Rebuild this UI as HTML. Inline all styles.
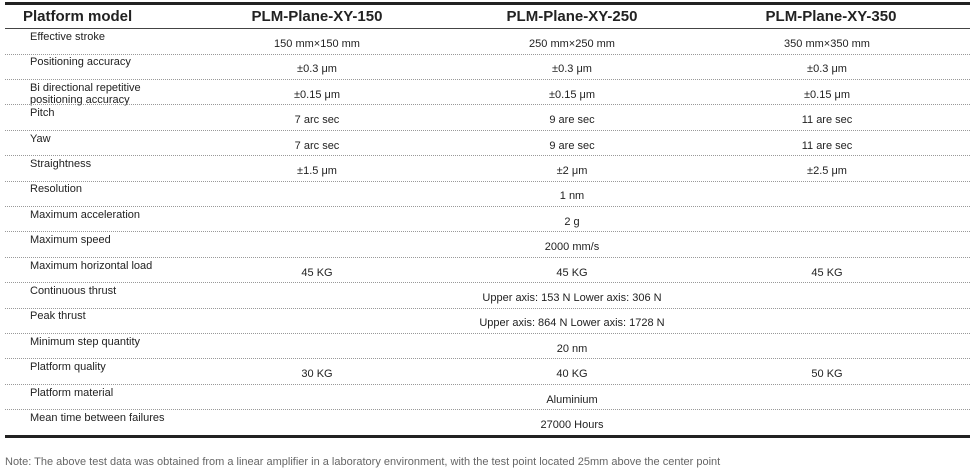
<!DOCTYPE html>
<html><head><meta charset="utf-8"><style>
body{margin:0;width:975px;height:473px;background:#fff;font-family:"Liberation Sans",sans-serif;color:#222;position:relative;overflow:hidden}
.a{position:absolute;white-space:nowrap}
.h{font-weight:bold;font-size:15px;top:8px;color:#222}
.l{font-size:11px;left:30px;line-height:12px}
.v{font-size:11px;transform:translateX(-50%)}
.sep{position:absolute;left:5px;width:965px;border-top:1px dotted #999;height:0}
</style></head><body>
<div class="a" style="left:5px;top:2px;width:965px;height:3px;background:#222"></div>
<div class="a" style="left:5px;top:28px;width:965px;height:1px;background:#444"></div>
<div class="a" style="left:5px;top:435px;width:965px;height:3px;background:#222"></div>
<div class="a h" style="left:23px">Platform model</div>
<div class="a h" style="left:317px;transform:translateX(-50%)">PLM-Plane-XY-150</div>
<div class="a h" style="left:572px;transform:translateX(-50%)">PLM-Plane-XY-250</div>
<div class="a h" style="left:831px;transform:translateX(-50%)">PLM-Plane-XY-350</div>
<div id="rows"></div>
<div class="a" style="left:5px;top:456px;font-size:11px;color:#666">Note: The above test data was obtained from a linear amplifier in a laboratory environment, with the test point located 25mm above the center point</div>
<script>
var R=[["Effective stroke","150 mm×150 mm","250 mm×250 mm","350 mm×350 mm"],
["Positioning accuracy","±0.3 μm","±0.3 μm","±0.3 μm"],
["Bi directional repetitive<br>positioning accuracy","±0.15 μm","±0.15 μm","±0.15 μm"],
["Pitch","7 arc sec","9 are sec","11 are sec"],
["Yaw","7 arc sec","9 are sec","11 are sec"],
["Straightness","±1.5 μm","±2 μm","±2.5 μm"],
["Resolution","","1 nm",""],
["Maximum acceleration","","2 g",""],
["Maximum speed","","2000 mm/s",""],
["Maximum horizontal load","45 KG","45 KG","45 KG"],
["Continuous thrust","","Upper axis: 153 N Lower axis: 306 N",""],
["Peak thrust","","Upper axis: 864 N Lower axis: 1728 N",""],
["Minimum step quantity","","20 nm",""],
["Platform quality","30 KG","40 KG","50 KG"],
["Platform material","","Aluminium",""],
["Mean time between failures","","27000 Hours",""]];
var h="",X=[317,572,827];
R.forEach(function(r,i){var t=29+i*25.4;
h+='<div class="a l" style="top:'+(t+2)+'px">'+r[0]+'</div>';
for(var j=1;j<4;j++)if(r[j])h+='<div class="a v" style="left:'+X[j-1]+'px;top:'+(t+9)+'px">'+r[j]+'</div>';
if(i<15)h+='<div class="sep" style="top:'+(t+24.5)+'px"></div>';});
document.getElementById("rows").innerHTML=h;
</script>
</body></html>
